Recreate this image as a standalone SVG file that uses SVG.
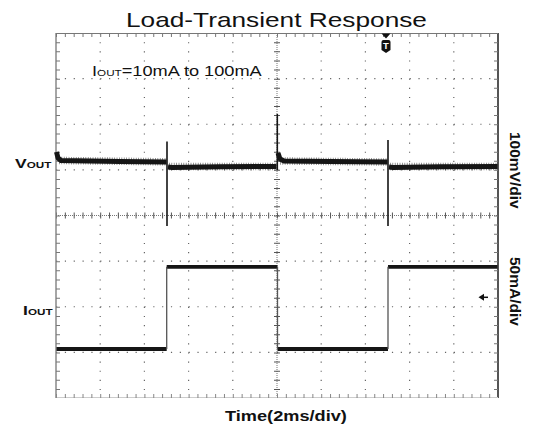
<svg xmlns="http://www.w3.org/2000/svg" width="534" height="428" viewBox="0 0 534 428">
<style>
.lbl{font-family:"Liberation Sans",Arial,sans-serif;fill:#111}
.b{font-weight:bold}
.dotH{stroke:#666;stroke-width:1.2;stroke-dasharray:1.2 7.64;fill:none}
.dotV{stroke:#666;stroke-width:1.2;stroke-dasharray:1.2 7.925;fill:none}
.trace{fill:none;stroke:#151515;stroke-linejoin:round}
.fuzz{fill:none;stroke:#222;stroke-width:7.5;stroke-dasharray:0.8 1.6;opacity:0.6}
</style>
<rect width="534" height="428" fill="#fff"/>
<g id="title"><text class="lbl" transform="translate(126,27) scale(1.3,1)" font-size="20.2">Load-Transient Response</text></g>
<g id="grid">
  <g class="dotH">
    <line x1="56" y1="78.6" x2="498" y2="78.6"/>
    <line x1="56" y1="124.25" x2="498" y2="124.25"/>
    <line x1="56" y1="169.9" x2="498" y2="169.9"/>
    <line x1="56" y1="261.1" x2="498" y2="261.1"/>
    <line x1="56" y1="306.75" x2="498" y2="306.75"/>
    <line x1="56" y1="352.4" x2="498" y2="352.4"/>
  </g>
  <g class="dotV">
    <line x1="100.2" y1="33" x2="100.2" y2="398"/>
    <line x1="144.4" y1="33" x2="144.4" y2="398"/>
    <line x1="188.6" y1="33" x2="188.6" y2="398"/>
    <line x1="232.8" y1="33" x2="232.8" y2="398"/>
    <line x1="321.2" y1="33" x2="321.2" y2="398"/>
    <line x1="365.4" y1="33" x2="365.4" y2="398"/>
    <line x1="409.6" y1="33" x2="409.6" y2="398"/>
    <line x1="453.8" y1="33" x2="453.8" y2="398"/>
  </g>
  <line x1="56" y1="215.5" x2="498" y2="215.5" stroke="#777" stroke-width="1" stroke-dasharray="1 1"/>
  <line x1="56" y1="215.5" x2="498" y2="215.5" stroke="#555" stroke-width="6" stroke-dasharray="1 7.84"/>
  <line x1="277" y1="33" x2="277" y2="398" stroke="#777" stroke-width="1" stroke-dasharray="1 1"/>
  <line x1="277" y1="33" x2="277" y2="398" stroke="#555" stroke-width="6" stroke-dasharray="1 8.125"/>
  <line x1="56" y1="33" x2="56" y2="398" stroke="#888" stroke-width="1.5"/>
  <line x1="56" y1="33.5" x2="498" y2="33.5" stroke="#777" stroke-width="1.2"/>
  <line x1="498" y1="33" x2="498" y2="398" stroke="#555" stroke-width="2"/>
  <line x1="56" y1="397.5" x2="498" y2="397.5" stroke="#ccc" stroke-width="1"/>
  <line x1="58" y1="33" x2="58" y2="398" stroke="#777" stroke-width="4" stroke-dasharray="1 8.125"/>
  <line x1="496" y1="33" x2="496" y2="398" stroke="#777" stroke-width="4" stroke-dasharray="1 8.125"/>
  <line x1="56" y1="35" x2="498" y2="35" stroke="#777" stroke-width="4" stroke-dasharray="1 7.84"/>
  <line x1="56" y1="396" x2="498" y2="396" stroke="#888" stroke-width="4" stroke-dasharray="1 7.84"/>
</g>
<g id="vout-trace">
  <path class="fuzz" d="M59,160.5 L166,161.8 M169,166.5 L276,166.5 M280,161 L387,162 M390,166.5 L497,166.5"/>
  <path class="trace" stroke-width="5" d="M56.5,152 L58,158 L61,160.5 L90,161 L120,161.5 L166.5,162"/>
  <path class="trace" stroke-width="5" d="M168,167 L172,167.5 L220,166.8 L276.5,166.5"/>
  <path class="trace" stroke-width="5" d="M278,153 L280,159 L284,161 L330,161.5 L387.5,162"/>
  <path class="trace" stroke-width="5" d="M389,167 L393,167.5 L440,166.8 L497.5,166.5"/>
  <path class="trace" stroke-width="1.6" d="M167,141.5 L167,226 M277.3,114 L277.3,170 M388,140 L388,226"/>
</g>
<g id="iout-trace">
  <path class="trace" stroke-width="3.8" d="M56.5,349 L166.7,349"/>
  <path class="trace" stroke-width="3.8" d="M166.7,266.8 L277.5,266.8"/>
  <path class="trace" stroke-width="3.8" d="M277.5,349 L388,349"/>
  <path class="trace" stroke-width="3.8" d="M388,266.8 L497.5,266.8"/>
  <path fill="none" stroke="#555" stroke-width="1.3" d="M166.7,349 L166.7,266.8 M277.5,266.8 L277.5,349 M388,349 L388,266.8"/>
</g>
<g id="trigger-marker">
  <path d="M381.5,33.5 L390.5,33.5 L386,38.5 Z" fill="#111"/>
  <path d="M381.5,42 Q381.5,40 383.5,40 L388.5,40 Q390.5,40 390.5,42 L390.5,50 L386,53 L381.5,50 Z" fill="#111"/>
  <text x="386" y="49.3" font-family="Liberation Sans,Arial,sans-serif" font-weight="bold" font-size="9.5" fill="#fff" text-anchor="middle">T</text>
</g>
<g id="ground-marker">
  <path d="M478.5,297.3 L484,293.8 L484,300.8 Z" fill="#111"/>
  <line x1="483" y1="297.3" x2="488" y2="297.3" stroke="#111" stroke-width="1.5"/>
</g>
<g id="labels">
  <text class="lbl" transform="translate(92,76) scale(1.3,1)" font-size="14">I<tspan font-size="9">OUT</tspan>=10mA to 100mA</text>
  <text class="lbl b" transform="translate(15,168.3) scale(1.3,1)" font-size="13.5">V<tspan font-size="9">OUT</tspan></text>
  <text class="lbl b" transform="translate(23,315) scale(1.3,1)" font-size="13.5">I<tspan font-size="9">OUT</tspan></text>
  <text class="lbl b" transform="translate(510,132) rotate(90)" font-size="15.5">100mV/div</text>
  <text class="lbl b" transform="translate(510,257) rotate(90)" font-size="15.5">50mA/div</text>
  <text class="lbl b" transform="translate(225,421) scale(1.3,1)" font-size="14">Time(2ms/div)</text>
</g>
</svg>
